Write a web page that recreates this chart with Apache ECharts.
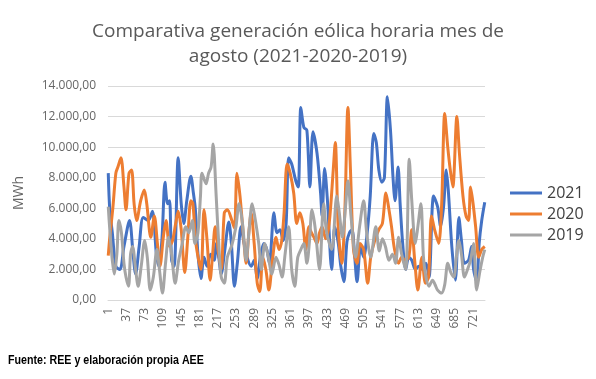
<!DOCTYPE html>
<html><head><meta charset="utf-8">
<script src="https://cdn.jsdelivr.net/npm/echarts@6/dist/echarts.min.js"></script>
<style>html,body{margin:0;padding:0;background:#fff}#c{width:596px;height:379px}</style>
</head><body><div id="c"></div>
<script>
const titleText = 'Comparativa generación eólica horaria mes de\nagosto (2021-2020-2019)';
const sourceText = 'Fuente: REE y elaboración propia AEE';
const seriesNames = ['2021', '2020', '2019'];
const xTickLabels = [1,37,73,109,145,181,217,253,289,325,361,397,433,469,505,541,577,613,649,685,721];

const hours2021 = [1,4,9,16,24,32,43,50,55,62,70,80,88,96,101,107,113,118,122,126,131,139,145,150,156,164,169,173,178,184,190,196,203,210,214,219,224,230,239,244,250,256,263,268,275,283,289,295,301,308,314,319,328,334,340,346,352,357,363,371,376,381,387,393,399,405,413,420,423,428,434,442,448,455,460,466,472,477,482,487,492,499,505,512,518,525,530,535,541,546,552,558,563,567,573,577,582,588,594,600,607,614,621,628,634,643,651,657,663,668,672,679,686,693,698,704,712,718,722,728,733,738,744];
const mwh2021 = [8300,5900,4400,2200,2000,3500,5200,3000,1700,3500,5400,5200,5800,3000,2200,4000,7700,6300,6500,2600,2200,9300,6300,5000,6500,8100,7000,5900,3000,1400,2800,2200,3000,2600,3700,2800,1700,3000,5100,3700,900,2500,4800,3900,2800,2200,2600,1400,2800,3700,3300,2400,5700,4400,4600,3900,5000,9300,8900,7800,7400,12600,11300,11100,7400,11000,9600,7000,5500,8600,6300,2000,4800,3700,2200,1200,3800,4400,4600,3000,1200,3500,2800,4400,6800,10900,10300,8500,7700,8000,13300,11100,8000,6500,8700,6300,3700,2000,2800,2600,2000,2200,2000,2400,1500,6800,6100,4800,6200,8500,7200,3500,1300,5400,3900,2400,2600,3500,2000,1200,3700,5200,6400];

const hours2020 = [1,4,10,16,20,26,32,36,42,47,52,57,65,72,77,85,92,98,103,110,115,122,128,134,139,145,152,158,164,168,174,184,190,196,202,207,212,218,224,230,236,245,250,255,261,269,273,279,283,289,295,300,306,312,318,325,332,338,343,348,354,360,367,373,379,385,391,397,402,407,413,418,423,430,437,445,449,455,462,468,474,479,485,492,498,505,513,519,527,535,542,549,555,560,566,574,580,587,594,600,606,612,620,627,633,639,645,653,659,665,671,676,681,689,694,701,707,712,716,721,726,732,738,744];
const mwh2020 = [2900,4100,6000,8300,8700,9300,7400,5900,8300,8500,6300,5200,6500,7200,6300,4100,5500,3700,2200,4200,5200,3500,3900,5000,5800,4600,1800,4100,6500,6300,3700,2000,5900,3900,1300,3000,4800,3200,2000,5700,5900,5200,4700,8300,6800,3700,2400,4600,5700,3700,1100,550,2800,2000,650,2600,4100,3300,3800,5700,8900,8300,7000,5000,5700,5000,3300,4800,4400,4100,3700,4400,4800,4000,5000,8500,10300,4600,2400,5900,12600,8500,3300,2400,3700,3300,1100,2800,3900,4600,5000,7000,5900,4800,3300,2400,2800,2600,2800,4600,2500,650,2800,1100,1500,5500,4600,3700,6300,12200,10000,8500,7400,12000,9600,6800,5500,5200,7400,6300,4800,2800,3300,3500];

const hours2019 = [1,4,9,13,18,22,27,32,36,41,45,49,55,60,66,73,78,84,90,97,102,108,114,120,126,133,140,147,154,160,167,172,178,183,186,194,199,204,208,214,219,224,230,236,245,253,259,266,273,279,285,290,298,303,310,317,324,332,338,344,350,357,363,369,375,381,387,393,398,403,409,418,426,432,442,452,457,463,469,474,480,489,497,505,511,519,529,536,542,548,555,562,568,574,580,588,595,600,607,612,618,623,628,634,641,646,651,659,665,671,677,683,688,693,698,704,710,716,722,728,734,740,744];
const mwh2019 = [6100,4600,2600,1700,3000,5200,4400,2400,1500,900,3000,3500,2000,900,2200,3900,2800,650,1500,3300,2000,450,2400,4100,3000,1100,2600,3700,4800,4400,5200,3700,4400,6800,8300,7600,8300,8700,10200,6800,3700,1500,1100,2800,3600,4800,6300,5000,2600,4600,6300,5500,3700,2000,3700,2800,1700,2800,2300,1500,3000,4800,2000,900,2800,3300,3700,2400,3800,5900,4800,2000,6300,4400,3300,6800,5700,4100,6000,7800,5500,2800,4800,6500,4400,2800,4800,3200,4000,3500,2600,3000,2400,4100,3000,2000,9200,6500,3700,4800,6300,2800,1500,900,1300,1000,650,450,1000,2400,1800,1500,2800,3900,3000,1500,2000,2600,3700,650,1800,2800,3300];

const colors = ['#4472C4', '#ED7D31', '#A5A5A5'];
function pairs(h, v) { return h.map((x, i) => [x, v[i]]); }
function fmtNum(v) {
  return Math.round(v).toString().replace(/\B(?=(\d{3})+(?!\d))/g, '.') + ',00';
}

const chart = echarts.init(document.getElementById('c'), null, {renderer: 'canvas'});
chart.setOption({
  animation: false,
  backgroundColor: '#ffffff',
  title: {
    text: titleText, left: 'center', top: 14,
    textStyle: {fontFamily: 'Open Sans', fontSize: 19, fontWeight: 'normal', color: '#595959', lineHeight: 25}
  },
  legend: {
    data: seriesNames, orient: 'vertical', left: 505, top: 180,
    icon: 'rect', itemWidth: 32, itemHeight: 3, itemGap: 5, itemStyle: {borderWidth: 0},
    textStyle: {fontFamily: 'Open Sans', fontSize: 16, color: '#404040'}
  },
  grid: {left: 108, right: 111, top: 86, bottom: 79, containLabel: false},
  xAxis: {
    type: 'value', min: 0.5, max: 744.5,
    axisLine: {show: true, lineStyle: {color: '#d9d9d9', width: 1}},
    axisTick: {show: false},
    splitLine: {show: false},
    axisLabel: {customValues: xTickLabels, rotate: 90, margin: 8, fontFamily: 'Open Sans', fontSize: 12, color: '#666666'}
  },
  yAxis: {
    type: 'value', min: 0, max: 14000, interval: 2000,
    name: 'MWh', nameLocation: 'middle', nameRotate: 90, nameGap: 82,
    nameTextStyle: {fontFamily: 'Open Sans', fontSize: 14, color: '#666666'},
    axisLine: {show: false}, axisTick: {show: false},
    splitLine: {lineStyle: {color: '#d9d9d9', width: 1}},
    axisLabel: {formatter: fmtNum, margin: 12, fontFamily: 'Open Sans', fontSize: 12, color: '#666666'}
  },
  series: [
    {name: '2021', type: 'line', data: pairs(hours2021, mwh2021), showSymbol: false, smooth: 0.3, lineStyle: {width: 3, color: colors[0]}, itemStyle: {color: colors[0]}},
    {name: '2020', type: 'line', data: pairs(hours2020, mwh2020), showSymbol: false, smooth: 0.3, lineStyle: {width: 3, color: colors[1]}, itemStyle: {color: colors[1]}},
    {name: '2019', type: 'line', data: pairs(hours2019, mwh2019), showSymbol: false, smooth: 0.3, lineStyle: {width: 3, color: colors[2]}, itemStyle: {color: colors[2]}}
  ],
  graphic: [{
    type: 'text', x: 8, y: 355, scaleX: 0.89, scaleY: 1, originX: 0, originY: 0,
    style: {text: sourceText, font: 'bold 12px "Liberation Sans", sans-serif', fill: '#000000'}
  }]
});
</script>
</body></html>
